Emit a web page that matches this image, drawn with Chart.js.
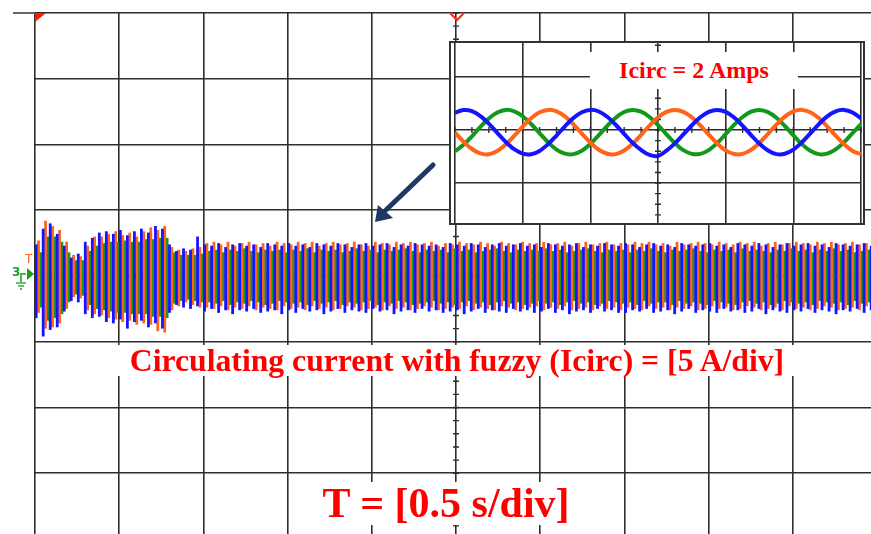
<!DOCTYPE html>
<html>
<head>
<meta charset="utf-8">
<script src="https://cdn.jsdelivr.net/npm/chart.js@4.4.1/dist/chart.umd.min.js"></script>
<style>
  html, body { margin:0; padding:0; background:#fff; overflow:hidden; }
  body { width:871px; height:534px; position:relative; }
  #main { position:absolute; left:0; top:0; }
  #insetBox { position:absolute; left:449px; top:41px; width:412px; height:180px; border:2px solid #333; background:#fff; }
  #inset { position:absolute; left:0; top:0; }
  .lbl { position:absolute; color:#f00; font-family:"Liberation Serif","Times New Roman",serif; font-weight:bold; background:#fff; text-align:center; white-space:nowrap; }
  #cap { left:112px; top:345px; width:690px; height:31px; font-size:31.7px; line-height:31px; }
  #tlab { left:296px; top:482px; width:300px; height:43px; font-size:42px; line-height:43px; }
  #ititle { left:590px; top:52px; width:208px; height:37px; font-size:24px; line-height:37px; }
  #marks { position:absolute; left:0; top:0; }
  .side { position:absolute; font-family:"DejaVu Sans",sans-serif; font-size:12px; line-height:12px; }
</style>
</head>
<body>
<canvas id="main" width="900" height="560"></canvas>
<div id="insetBox"><canvas id="inset" width="412" height="180"></canvas></div>
<div class="lbl" id="cap">Circulating current with fuzzy (Icirc) = [5 A/div]</div>
<div class="lbl" id="tlab">T = [0.5 s/div]</div>
<div class="lbl" id="ititle">Icirc = 2 Amps</div>
<div class="side" style="left:25px;top:253px;color:#ff6418;">T</div>
<div class="side" style="left:12px;top:266px;color:#18a018;font-weight:bold;">3</div>
<svg id="marks" width="871" height="534">
  <line x1="13" y1="13" x2="35" y2="13" stroke="#666" stroke-width="2"/>
  <polygon points="35,13 46,13 35,22" fill="#ff1a00"/>
  <polyline points="450,13 457,20 464,13" fill="none" stroke="#ff2a10" stroke-width="2"/>
  <polyline points="21,282 21,274 26,274" fill="none" stroke="#18a018" stroke-width="1.5"/>
  <polygon points="27,268 34,274 27,280" fill="#18a018"/>
  <line x1="16" y1="283" x2="26" y2="283" stroke="#18a018" stroke-width="1.3"/>
  <line x1="18" y1="286" x2="24" y2="286" stroke="#18a018" stroke-width="1.3"/>
  <line x1="20" y1="289" x2="22" y2="289" stroke="#18a018" stroke-width="1.3"/>
  <line x1="433" y1="165" x2="386" y2="210" stroke="#1f3864" stroke-width="5" stroke-linecap="round"/>
  <polygon points="375,222 378,205 393,218" fill="#1f3864"/>
</svg>
<script>
// main trace: per-bin envelope (A) of each phase, 120 bins over 5 s
const blueHi = [2.4,3.6,4.0,3.2,2.3,1.4,1.7,2.6,2.9,3.3,3.4,3.2,3.5,3.1,3.4,3.6,3.3,3.8,3.6,2.4,1.9,2.1,2.0,3.0,
  2.4,2.3,2.5,2.2,2.4,2.5,2.3,2.4,2.2,2.5,2.4,2.3,
  2.5,2.3,2.4,2.2,2.5,2.4,2.3,2.5,2.4,2.2,2.4,2.5,
  2.3,2.4,2.5,2.2,2.4,2.3,2.5,2.4,2.3,2.4,2.2,2.5,
  2.4,2.3,2.5,2.4,2.2,2.4,2.5,2.3,2.4,2.5,2.3,2.4,
  2.2,2.5,2.4,2.3,2.4,2.5,2.2,2.4,2.3,2.5,2.4,2.3,
  2.5,2.4,2.2,2.4,2.5,2.3,2.4,2.2,2.5,2.4,2.3,2.4,
  2.5,2.3,2.4,2.2,2.5,2.4,2.3,2.5,2.4,2.2,2.4,2.5,
  2.3,2.4,2.5,2.3,2.4,2.2,2.5,2.4,2.3,2.4,2.5,2.3];
const blueLo = [-3.2,-4.6,-4.1,-3.9,-2.7,-1.9,-2.0,-2.9,-3.2,-3.1,-3.5,-3.6,-3.3,-4.0,-3.5,-3.4,-3.9,-3.6,-4.0,-2.8,-2.2,-2.4,-2.5,-2.3,
  -2.7,-2.5,-2.8,-2.6,-2.9,-2.6,-2.7,-2.5,-2.8,-2.7,-2.6,-2.9,
  -2.6,-2.8,-2.5,-2.7,-2.6,-2.9,-2.7,-2.5,-2.8,-2.6,-2.7,-2.8,
  -2.5,-2.7,-2.6,-2.9,-2.7,-2.6,-2.8,-2.5,-2.7,-2.6,-2.8,-2.7,
  -2.6,-2.9,-2.7,-2.5,-2.8,-2.6,-2.7,-2.8,-2.5,-2.7,-2.6,-2.8,
  -2.7,-2.5,-2.8,-2.6,-2.9,-2.7,-2.6,-2.8,-2.5,-2.7,-2.6,-2.8,
  -2.8,-2.6,-2.7,-2.5,-2.8,-2.7,-2.6,-2.9,-2.7,-2.5,-2.8,-2.6,
  -2.7,-2.8,-2.5,-2.7,-2.6,-2.8,-2.7,-2.5,-2.9,-2.6,-2.7,-2.8,
  -2.6,-2.7,-2.5,-2.8,-2.6,-2.7,-2.9,-2.6,-2.7,-2.5,-2.8,-2.6];
const orangeHi = [2.7,4.2,3.8,3.5,2.6,1.6,1.5,2.3,3.0,3.0,3.2,3.4,3.1,3.3,3.0,3.4,3.7,3.5,3.8,2.2,2.0,1.9,2.1,2.2,
  2.5,2.6,2.4,2.6,2.3,2.5,2.6,2.4,2.5,2.3,2.6,2.5,
  2.4,2.6,2.5,2.6,2.3,2.5,2.6,2.4,2.5,2.6,2.4,2.3,
  2.6,2.5,2.4,2.6,2.5,2.6,2.4,2.5,2.6,2.3,2.5,2.4,
  2.6,2.5,2.4,2.6,2.5,2.3,2.6,2.5,2.4,2.6,2.5,2.5,
  2.6,2.4,2.5,2.6,2.3,2.5,2.6,2.4,2.5,2.6,2.4,2.5,
  2.4,2.6,2.5,2.6,2.4,2.5,2.3,2.6,2.4,2.5,2.6,2.5,
  2.4,2.6,2.5,2.4,2.6,2.5,2.6,2.3,2.5,2.6,2.4,2.5,
  2.6,2.5,2.4,2.6,2.5,2.6,2.4,2.5,2.6,2.4,2.5,2.6];
const orangeLo = [-2.8,-4.0,-3.9,-3.6,-2.5,-1.6,-1.7,-2.6,-2.9,-3.0,-3.2,-3.3,-3.5,-3.4,-3.7,-3.6,-3.7,-4.2,-4.3,-2.6,-2.3,-2.0,-2.2,-2.4,
  -2.4,-2.5,-2.3,-2.6,-2.4,-2.5,-2.3,-2.6,-2.4,-2.5,-2.6,-2.3,
  -2.5,-2.4,-2.6,-2.3,-2.5,-2.4,-2.6,-2.5,-2.3,-2.4,-2.6,-2.5,
  -2.4,-2.6,-2.3,-2.5,-2.4,-2.6,-2.5,-2.3,-2.4,-2.6,-2.5,-2.4,
  -2.5,-2.3,-2.6,-2.4,-2.5,-2.6,-2.3,-2.4,-2.6,-2.5,-2.4,-2.3,
  -2.6,-2.4,-2.5,-2.3,-2.6,-2.5,-2.4,-2.6,-2.3,-2.5,-2.4,-2.6,
  -2.4,-2.5,-2.6,-2.3,-2.5,-2.4,-2.6,-2.4,-2.5,-2.3,-2.6,-2.5,
  -2.3,-2.5,-2.4,-2.6,-2.5,-2.3,-2.4,-2.6,-2.5,-2.4,-2.6,-2.3,
  -2.5,-2.4,-2.6,-2.5,-2.3,-2.4,-2.6,-2.5,-2.4,-2.6,-2.3,-2.5];
const greenHi = [1.8,3.0,3.0,2.6,1.8,1.2,1.2,1.9,2.3,2.5,2.6,2.6,2.7,2.6,2.6,2.8,2.8,2.9,2.9,1.8,1.6,1.6,1.6,1.7,
  1.9,2.0,1.8,2.0,1.9,2.1,1.9,1.8,2.0,1.9,2.0,1.8,
  2.0,1.9,2.1,1.8,2.0,1.9,2.0,1.8,1.9,2.1,1.9,2.0,
  1.8,2.0,1.9,2.0,2.1,1.9,1.8,2.0,1.9,2.0,1.8,2.1,
  1.9,2.0,1.8,1.9,2.0,2.1,1.9,1.8,2.0,1.9,2.0,1.9,
  2.1,1.9,2.0,1.8,1.9,2.0,2.1,1.9,1.8,2.0,1.9,2.0,
  1.8,2.0,1.9,2.1,1.9,1.8,2.0,1.9,2.0,2.1,1.9,1.8,
  2.0,1.9,2.0,1.8,2.1,1.9,2.0,1.9,1.8,2.0,1.9,2.1,
  1.9,2.0,1.8,2.0,1.9,2.1,1.9,2.0,1.8,1.9,2.0,1.9];
const greenLo = [-2.4,-3.4,-3.2,-2.9,-2.0,-1.4,-1.5,-2.2,-2.5,-2.6,-2.7,-2.8,-2.8,-2.9,-2.9,-2.9,-3.1,-3.1,-3.2,-2.1,-1.9,-1.8,-1.9,-2.0,
  -2.0,-2.1,-1.9,-2.2,-2.0,-2.1,-1.9,-2.0,-2.2,-2.1,-1.9,-2.0,
  -2.1,-2.0,-2.2,-1.9,-2.1,-2.0,-1.9,-2.2,-2.0,-2.1,-2.0,-1.9,
  -2.2,-2.0,-2.1,-1.9,-2.0,-2.2,-2.1,-2.0,-1.9,-2.1,-2.0,-2.2,
  -2.0,-1.9,-2.1,-2.0,-2.2,-2.0,-1.9,-2.1,-2.0,-2.2,-2.1,-1.9,
  -2.1,-2.0,-2.2,-2.0,-1.9,-2.1,-2.0,-2.2,-2.1,-1.9,-2.0,-2.1,
  -2.0,-2.2,-1.9,-2.1,-2.0,-2.0,-2.2,-1.9,-2.1,-2.0,-2.1,-2.2,
  -1.9,-2.0,-2.1,-2.2,-2.0,-1.9,-2.1,-2.0,-2.2,-2.1,-1.9,-2.0,
  -2.1,-2.0,-2.2,-1.9,-2.0,-2.1,-2.0,-2.2,-1.9,-2.1,-2.0,-2.1];

// zoomed inset: time in divisions, current in A
const insetT = [0,0.125,0.25,0.375,0.5,0.625,0.75,0.875,1,1.125,1.25,1.375,1.5,1.625,1.75,1.875,2,2.125,2.25,2.375,2.5,2.625,2.75,2.875,3,
  3.125,3.25,3.375,3.5,3.625,3.75,3.875,4,4.125,4.25,4.375,4.5,4.625,4.75,4.875,5,5.125,5.25,5.375,5.5,5.625,5.75,5.875,6];
const insetBlue = [1.64,1.89,1.78,1.32,0.60,-0.27,-1.12,-1.81,-2.22,-2.28,-1.97,-1.34,-0.52,0.35,1.14,1.68,1.90,1.75,1.25,0.50,-0.37,-1.21,-1.88,-2.35,-2.45,
  -1.95,-1.26,-0.42,0.45,1.21,1.72,1.90,1.71,1.18,0.41,-0.47,-1.30,-1.93,-2.27,-2.24,-1.85,-1.17,-0.32,0.54,1.28,1.76,1.90,1.66,1.10];
const insetOrange = [-0.24,-1.09,-1.79,-2.21,-2.28,-1.98,-1.37,-0.55,0.32,1.11,1.67,1.90,1.76,1.28,0.54,-0.34,-1.18,-1.86,-2.24,-2.27,-1.93,-1.29,-0.46,0.42,1.19,
  1.71,1.90,1.72,1.20,0.44,-0.43,-1.27,-1.92,-2.26,-2.25,-1.87,-1.20,-0.36,0.51,1.26,1.75,1.90,1.68,1.13,0.35,-0.53,-1.35,-1.97,-2.28];
const insetGreen = [-2.00,-1.40,-0.59,0.29,1.09,1.65,1.90,1.77,1.30,0.57,-0.30,-1.15,-1.84,-2.23,-2.27,-1.95,-1.32,-0.49,0.39,1.16,1.70,1.90,1.73,1.23,0.47,
  -0.40,-1.24,-1.90,-2.25,-2.25,-1.89,-1.23,-0.39,0.48,1.23,1.74,1.90,1.69,1.16,0.38,-0.50,-1.33,-1.95,-2.27,-2.23,-1.83,-1.14,-0.29,0.57];

const BLUE = '#1414ff', ORANGE = '#ff6418', GREEN = '#12991a', GRIDC = '#2e2e2e';

// small graticule ticks along the centre axes
const scopeTicks = {
  id: 'scopeTicks',
  beforeDatasetsDraw(chart, args, o) {
    const ctx = chart.ctx, xs = chart.scales[o.xId], ys = chart.scales.y;
    const cx = xs.getPixelForValue(o.xMid), cy = ys.getPixelForValue(0);
    ctx.save();
    ctx.strokeStyle = GRIDC; ctx.lineWidth = 1.4;
    ctx.beginPath();
    for (let v = xs.min; v <= xs.max + 1e-9; v += o.xStep) {
      const p = xs.getPixelForValue(v);
      ctx.moveTo(p, cy - o.len); ctx.lineTo(p, cy + o.len);
    }
    for (let v = ys.min - (ys.min % o.yStep); v <= ys.max + 1e-9; v += o.yStep) {
      const p = ys.getPixelForValue(v);
      ctx.moveTo(cx - o.len, p); ctx.lineTo(cx + o.len, p);
    }
    ctx.stroke();
    ctx.restore();
  }
};

const hideX = s => { s.height = 0; };
const hideY = s => { s.width = 0; };
const gridOpts = { color: GRIDC, lineWidth: 1.6, drawTicks: false, offset: false };

const binLabels = blueHi.map((_, i) => i);
const bar = (label, lo, hi, color) => ({
  label, data: lo.map((v, i) => [v, hi[i]]), backgroundColor: color,
  borderWidth: 0, barPercentage: 1.2, categoryPercentage: 1, xAxisID: 'x', yAxisID: 'y'
});

new Chart(document.getElementById('main').getContext('2d'), {
  type: 'bar',
  data: {
    labels: binLabels,
    datasets: [
      bar('Ia', blueLo, blueHi, BLUE),
      bar('Ib', orangeLo, orangeHi, ORANGE),
      bar('Ic', greenLo, greenHi, GREEN)
    ]
  },
  options: {
    responsive: false, animation: false, devicePixelRatio: 1,
    layout: { padding: { left: 35, top: 13, right: 23, bottom: 21 } },
    plugins: { legend: { display: false }, tooltip: { enabled: false },
      scopeTicks: { xId: 'xg', xMid: 2.5, xStep: 0.1, yStep: 1, len: 3 } },
    scales: {
      x: { type: 'category', display: false, offset: true },
      xg: { type: 'linear', position: 'bottom', min: 0, max: 5, offset: false,
        ticks: { stepSize: 0.5, display: false }, grid: gridOpts,
        border: { display: false }, afterFit: hideX },
      y: { type: 'linear', min: -20, max: 20,
        ticks: { stepSize: 5, display: false }, grid: gridOpts,
        border: { display: false }, afterFit: hideY }
    }
  },
  plugins: [scopeTicks]
});

const line = (label, vals, color) => ({
  label, data: vals.map((v, i) => ({ x: insetT[i], y: v })), borderColor: color,
  borderWidth: 4, pointRadius: 0, tension: 0.35, fill: false
});

new Chart(document.getElementById('inset').getContext('2d'), {
  type: 'line',
  data: { datasets: [
    line('Ia', insetBlue, BLUE),
    line('Ib', insetOrange, ORANGE),
    line('Ic', insetGreen, GREEN)
  ] },
  options: {
    responsive: false, animation: false, devicePixelRatio: 1,
    layout: { padding: { left: 4, top: 0, right: 2, bottom: 0 } },
    plugins: { legend: { display: false }, tooltip: { enabled: false },
      scopeTicks: { xId: 'x', xMid: 3, xStep: 0.25, yStep: 1, len: 3 } },
    scales: {
      x: { type: 'linear', min: 0, max: 6,
        ticks: { stepSize: 1, display: false }, grid: gridOpts,
        border: { display: false }, afterFit: hideX },
      y: { type: 'linear', min: -8.77, max: 8.21,
        ticks: { display: false }, grid: gridOpts,
        border: { display: false }, afterFit: hideY,
        afterBuildTicks: s => { s.ticks = [-5, 0, 5].map(v => ({ value: v })); } }
    }
  },
  plugins: [scopeTicks]
});
</script>
</body>
</html>
